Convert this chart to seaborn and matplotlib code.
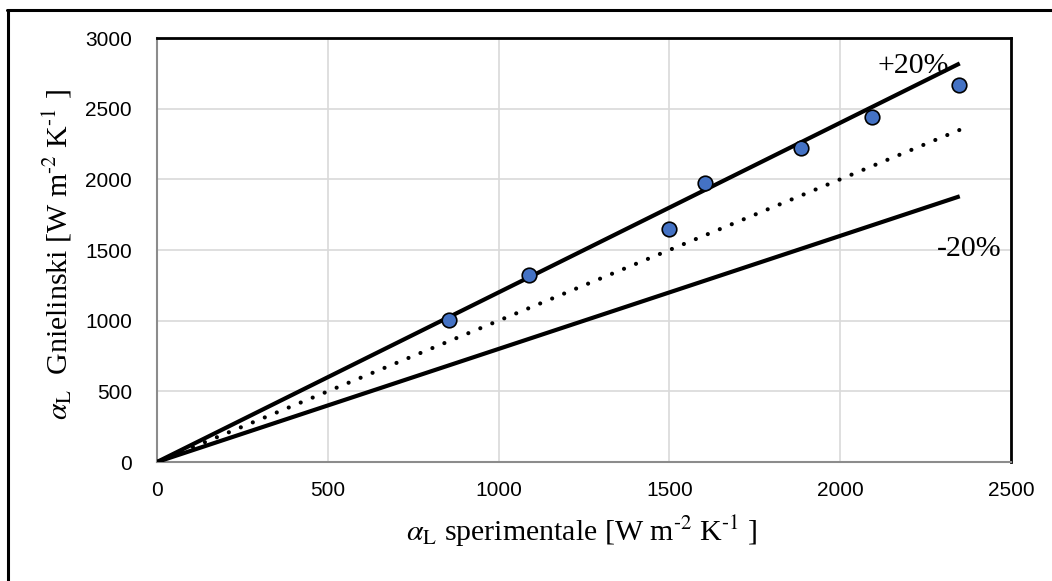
import matplotlib
matplotlib.use("Agg")
import matplotlib.pyplot as plt
import seaborn as sns
import pandas as pd
from matplotlib.lines import Line2D

# ---- data ----
x_exp = [856, 1088, 1500, 1605, 1884, 2092, 2349]
y_gniel = [1004, 1322, 1648, 1975, 2221, 2442, 2666]

line_x = [0, 2350]
upper_y = [0, 2820]   # +20%
mid_y = [0, 2350]     # 1:1
lower_y = [0, 1880]   # -20%

x_ticks = [0, 500, 1000, 1500, 2000, 2500]
y_ticks = [0, 500, 1000, 1500, 2000, 2500, 3000]

sns.set_theme(style="white")
plt.rcParams["font.family"] = ["Liberation Serif", "DejaVu Serif"]
plt.rcParams["mathtext.fontset"] = "stix"
plt.rcParams["text.color"] = "black"
plt.rcParams["axes.labelcolor"] = "black"
plt.rcParams["xtick.color"] = "black"
plt.rcParams["ytick.color"] = "black"

W, H = 1052, 581
fig = plt.figure(figsize=(W / 100, H / 100), dpi=100)
ax = fig.add_axes([157 / W, 1 - 462 / H, (1011 - 157) / W, (462 - 38) / H])

df_pts = pd.DataFrame({"x": x_exp, "y": y_gniel})
df_lines = pd.DataFrame({"x": line_x, "up": upper_y, "mid": mid_y, "low": lower_y})

ax.grid(True, color="#d9d9d9", linewidth=1.2)
ax.set_axisbelow(True)

sns.lineplot(data=df_lines, x="x", y="up", ax=ax, color="black", linewidth=3.0,
             solid_capstyle="butt", zorder=3)
sns.lineplot(data=df_lines, x="x", y="low", ax=ax, color="black", linewidth=3.0,
             solid_capstyle="butt", zorder=3)
sns.lineplot(data=df_lines, x="x", y="mid", ax=ax, color="black", linewidth=3.0, zorder=3)
mid_line = ax.lines[-1]
mid_line.set_linestyle((0, (0.01, 3.1)))
mid_line.set_dash_capstyle("round")

sns.scatterplot(data=df_pts, x="x", y="y", ax=ax, s=110, color="#4472C4",
                edgecolor="black", linewidth=1.2, zorder=5)

ax.set_xlim(0, 2500)
ax.set_ylim(0, 3000)
ax.set_xticks(x_ticks)
ax.set_yticks(y_ticks)
ax.tick_params(axis="both", length=0, labelsize=15, labelcolor="black")
ax.tick_params(axis="x", pad=14)
ax.tick_params(axis="y", pad=18)
for lab in ax.get_xticklabels() + ax.get_yticklabels():
    lab.set_family("Liberation Sans")

ax.set_xlabel(r"$\alpha_{\mathrm{L}}$ sperimentale [W m$^{\text{-2}}$ K$^{\text{-1}}$ ]",
              fontsize=21.5)
ax.set_ylabel(r"$\alpha_{\mathrm{L}}$  Gnielinski [W m$^{\text{-2}}$ K$^{\text{-1}}$ ]",
              fontsize=21.5)
ax.xaxis.set_label_coords(0.498, -0.123)
ax.yaxis.set_label_coords(-0.097, 0.49)

ax.text(2109, 2800, "+20%", fontsize=21.5, ha="left", va="center")
ax.text(2283, 1510, "-20%", fontsize=21.5, ha="left", va="center")

for s in ["left", "bottom"]:
    ax.spines[s].set_color("#8c8c8c")
    ax.spines[s].set_linewidth(1.5)
for s in ["top", "right"]:
    ax.spines[s].set_color("black")
    ax.spines[s].set_linewidth(2.0)
    ax.spines[s].set_visible(True)

# outer frame (left and top edges visible)
fig.add_artist(Line2D([7.5 / W, 7.5 / W], [1 - 10 / H, 0], color="black", linewidth=2.2,
                      transform=fig.transFigure))
fig.add_artist(Line2D([6.5 / W, 1], [1 - 10 / H, 1 - 10 / H], color="black", linewidth=2.2,
                      transform=fig.transFigure))

fig.savefig("out.png", dpi=100)
